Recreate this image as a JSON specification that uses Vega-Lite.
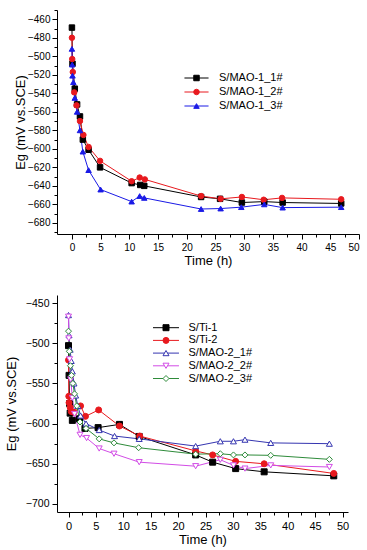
{
  "$schema": "https://vega.github.io/schema/vega-lite/v6.json",
  "background": "white",
  "padding": {"left": 5, "top": 5, "right": 5, "bottom": 5},
  "spacing": 28,
  "columns": 1,
  "align": "none",
  "config": {
    "font": "Liberation Sans",
    "view": {"stroke": null},
    "axis": {
      "domainColor": "black", "tickColor": "black", "labelColor": "black", "titleColor": "black",
      "grid": false, "tickSize": 4, "domainWidth": 1, "tickWidth": 1, "labelOverlap": false,
      "labelFont": "Liberation Sans", "titleFont": "Liberation Sans", "titleFontWeight": "normal",
      "labelFontSize": 10, "titleFontSize": 13, "labelPadding": 3
    },
    "legend": {"labelFont": "Liberation Sans", "labelFontSize": 11, "labelColor": "black", "padding": 0}
  },
  "datasets": {
    "top": [
      {"s": "S/MAO-1_1#", "t": 0, "e": -469}, {"s": "S/MAO-1_1#", "t": 0.1, "e": -508}, {"s": "S/MAO-1_1#", "t": 0.5, "e": -535},
      {"s": "S/MAO-1_1#", "t": 0.9, "e": -552}, {"s": "S/MAO-1_1#", "t": 1.4, "e": -565}, {"s": "S/MAO-1_1#", "t": 1.9, "e": -590},
      {"s": "S/MAO-1_1#", "t": 2.9, "e": -601}, {"s": "S/MAO-1_1#", "t": 4.9, "e": -620}, {"s": "S/MAO-1_1#", "t": 10.4, "e": -637},
      {"s": "S/MAO-1_1#", "t": 11.9, "e": -639}, {"s": "S/MAO-1_1#", "t": 12.6, "e": -640}, {"s": "S/MAO-1_1#", "t": 22.5, "e": -652},
      {"s": "S/MAO-1_1#", "t": 25.8, "e": -654}, {"s": "S/MAO-1_1#", "t": 29.6, "e": -658}, {"s": "S/MAO-1_1#", "t": 33.5, "e": -657},
      {"s": "S/MAO-1_1#", "t": 36.7, "e": -658}, {"s": "S/MAO-1_1#", "t": 46.9, "e": -659},
      {"s": "S/MAO-1_2#", "t": 0, "e": -480}, {"s": "S/MAO-1_2#", "t": 0.05, "e": -503}, {"s": "S/MAO-1_2#", "t": 0.15, "e": -517},
      {"s": "S/MAO-1_2#", "t": 0.4, "e": -539}, {"s": "S/MAO-1_2#", "t": 0.8, "e": -553}, {"s": "S/MAO-1_2#", "t": 1.4, "e": -570},
      {"s": "S/MAO-1_2#", "t": 2, "e": -585}, {"s": "S/MAO-1_2#", "t": 2.9, "e": -598}, {"s": "S/MAO-1_2#", "t": 4.9, "e": -613},
      {"s": "S/MAO-1_2#", "t": 10.4, "e": -635}, {"s": "S/MAO-1_2#", "t": 11.8, "e": -631}, {"s": "S/MAO-1_2#", "t": 12.7, "e": -633},
      {"s": "S/MAO-1_2#", "t": 22.5, "e": -651}, {"s": "S/MAO-1_2#", "t": 25.9, "e": -654}, {"s": "S/MAO-1_2#", "t": 29.6, "e": -652},
      {"s": "S/MAO-1_2#", "t": 33.4, "e": -655}, {"s": "S/MAO-1_2#", "t": 36.6, "e": -653}, {"s": "S/MAO-1_2#", "t": 46.9, "e": -654.5},
      {"s": "S/MAO-1_3#", "t": 0, "e": -492}, {"s": "S/MAO-1_3#", "t": 0.05, "e": -509}, {"s": "S/MAO-1_3#", "t": 0.1, "e": -521},
      {"s": "S/MAO-1_3#", "t": 0.25, "e": -528}, {"s": "S/MAO-1_3#", "t": 0.5, "e": -545}, {"s": "S/MAO-1_3#", "t": 0.9, "e": -560},
      {"s": "S/MAO-1_3#", "t": 1.4, "e": -580}, {"s": "S/MAO-1_3#", "t": 1.9, "e": -603}, {"s": "S/MAO-1_3#", "t": 2.9, "e": -623},
      {"s": "S/MAO-1_3#", "t": 5, "e": -644}, {"s": "S/MAO-1_3#", "t": 10.4, "e": -657}, {"s": "S/MAO-1_3#", "t": 11.8, "e": -651},
      {"s": "S/MAO-1_3#", "t": 12.6, "e": -653}, {"s": "S/MAO-1_3#", "t": 22.5, "e": -665}, {"s": "S/MAO-1_3#", "t": 25.9, "e": -664.5},
      {"s": "S/MAO-1_3#", "t": 29.5, "e": -663}, {"s": "S/MAO-1_3#", "t": 33.5, "e": -660}, {"s": "S/MAO-1_3#", "t": 36.7, "e": -663.5},
      {"s": "S/MAO-1_3#", "t": 46.9, "e": -663}
    ],
    "bot": [
      {"s": "S/Ti-1", "t": 0, "e": -503}, {"s": "S/Ti-1", "t": 0.1, "e": -540}, {"s": "S/Ti-1", "t": 0.2, "e": -575},
      {"s": "S/Ti-1", "t": 0.3, "e": -587}, {"s": "S/Ti-1", "t": 0.7, "e": -596}, {"s": "S/Ti-1", "t": 2, "e": -594},
      {"s": "S/Ti-1", "t": 3, "e": -606}, {"s": "S/Ti-1", "t": 5.4, "e": -605}, {"s": "S/Ti-1", "t": 9.3, "e": -601},
      {"s": "S/Ti-1", "t": 12.9, "e": -616}, {"s": "S/Ti-1", "t": 23.2, "e": -639}, {"s": "S/Ti-1", "t": 26.3, "e": -648},
      {"s": "S/Ti-1", "t": 30.5, "e": -656}, {"s": "S/Ti-1", "t": 35.7, "e": -660}, {"s": "S/Ti-1", "t": 48.4, "e": -665},
      {"s": "S/Ti-2", "t": 0, "e": -521}, {"s": "S/Ti-2", "t": 0.05, "e": -566}, {"s": "S/Ti-2", "t": 0.1, "e": -574},
      {"s": "S/Ti-2", "t": 0.3, "e": -580}, {"s": "S/Ti-2", "t": 0.5, "e": -585}, {"s": "S/Ti-2", "t": 1, "e": -586},
      {"s": "S/Ti-2", "t": 2.2, "e": -578}, {"s": "S/Ti-2", "t": 3.1, "e": -591}, {"s": "S/Ti-2", "t": 5.5, "e": -583},
      {"s": "S/Ti-2", "t": 9.3, "e": -603}, {"s": "S/Ti-2", "t": 13, "e": -615.5}, {"s": "S/Ti-2", "t": 23.2, "e": -634},
      {"s": "S/Ti-2", "t": 26.3, "e": -639}, {"s": "S/Ti-2", "t": 30.5, "e": -647}, {"s": "S/Ti-2", "t": 35.7, "e": -650},
      {"s": "S/Ti-2", "t": 48.4, "e": -662},
      {"s": "S/MAO-2_1#", "t": 0, "e": -465}, {"s": "S/MAO-2_1#", "t": 0.1, "e": -490}, {"s": "S/MAO-2_1#", "t": 0.3, "e": -508},
      {"s": "S/MAO-2_1#", "t": 0.5, "e": -522}, {"s": "S/MAO-2_1#", "t": 0.7, "e": -535}, {"s": "S/MAO-2_1#", "t": 1, "e": -550},
      {"s": "S/MAO-2_1#", "t": 1.3, "e": -565}, {"s": "S/MAO-2_1#", "t": 1.7, "e": -578}, {"s": "S/MAO-2_1#", "t": 2.2, "e": -590},
      {"s": "S/MAO-2_1#", "t": 3.2, "e": -600}, {"s": "S/MAO-2_1#", "t": 5.6, "e": -608}, {"s": "S/MAO-2_1#", "t": 8.4, "e": -615.5},
      {"s": "S/MAO-2_1#", "t": 12.9, "e": -619}, {"s": "S/MAO-2_1#", "t": 23.2, "e": -628}, {"s": "S/MAO-2_1#", "t": 27.7, "e": -622},
      {"s": "S/MAO-2_1#", "t": 30.1, "e": -622}, {"s": "S/MAO-2_1#", "t": 32.2, "e": -620}, {"s": "S/MAO-2_1#", "t": 36.9, "e": -624},
      {"s": "S/MAO-2_1#", "t": 47.6, "e": -625},
      {"s": "S/MAO-2_2#", "t": 0, "e": -467}, {"s": "S/MAO-2_2#", "t": 0.05, "e": -494}, {"s": "S/MAO-2_2#", "t": 0.2, "e": -520},
      {"s": "S/MAO-2_2#", "t": 0.4, "e": -545}, {"s": "S/MAO-2_2#", "t": 0.7, "e": -568}, {"s": "S/MAO-2_2#", "t": 1.1, "e": -588},
      {"s": "S/MAO-2_2#", "t": 2.1, "e": -614}, {"s": "S/MAO-2_2#", "t": 3.3, "e": -618}, {"s": "S/MAO-2_2#", "t": 5.6, "e": -631},
      {"s": "S/MAO-2_2#", "t": 8.3, "e": -637.5}, {"s": "S/MAO-2_2#", "t": 12.9, "e": -648}, {"s": "S/MAO-2_2#", "t": 23.2, "e": -653},
      {"s": "S/MAO-2_2#", "t": 27.7, "e": -645}, {"s": "S/MAO-2_2#", "t": 30.1, "e": -652}, {"s": "S/MAO-2_2#", "t": 32.2, "e": -656},
      {"s": "S/MAO-2_2#", "t": 36.9, "e": -652}, {"s": "S/MAO-2_2#", "t": 47.6, "e": -654},
      {"s": "S/MAO-2_3#", "t": 0, "e": -485}, {"s": "S/MAO-2_3#", "t": 0.15, "e": -510}, {"s": "S/MAO-2_3#", "t": 0.35, "e": -528},
      {"s": "S/MAO-2_3#", "t": 0.55, "e": -540}, {"s": "S/MAO-2_3#", "t": 0.8, "e": -550}, {"s": "S/MAO-2_3#", "t": 1.1, "e": -563},
      {"s": "S/MAO-2_3#", "t": 1.5, "e": -578}, {"s": "S/MAO-2_3#", "t": 2.1, "e": -598}, {"s": "S/MAO-2_3#", "t": 3.2, "e": -606},
      {"s": "S/MAO-2_3#", "t": 5.6, "e": -619}, {"s": "S/MAO-2_3#", "t": 8.3, "e": -624}, {"s": "S/MAO-2_3#", "t": 12.8, "e": -630},
      {"s": "S/MAO-2_3#", "t": 23.2, "e": -638}, {"s": "S/MAO-2_3#", "t": 27.7, "e": -637.5}, {"s": "S/MAO-2_3#", "t": 30.1, "e": -639},
      {"s": "S/MAO-2_3#", "t": 32.2, "e": -639}, {"s": "S/MAO-2_3#", "t": 36.9, "e": -639.5}, {"s": "S/MAO-2_3#", "t": 47.6, "e": -644.5}
    ]
  },
  "resolve": {"scale": {"color": "independent", "fill": "independent", "stroke": "independent", "shape": "independent"}},
  "concat": [
    {
      "width": 302,
      "height": 224,
      "data": {"name": "top"},
      "encoding": {
        "x": {"field": "t", "type": "quantitative", "title": "Time (h)",
          "scale": {"domain": [-2.6, 50], "nice": false, "zero": false},
          "axis": {"values": [0, 2.5, 5, 7.5, 10, 12.5, 15, 17.5, 20, 22.5, 25, 27.5, 30, 32.5, 35, 37.5, 40, 42.5, 45, 47.5, 50],
            "labelExpr": "datum.value % 5 == 0 ? datum.label : ''",
            "tickSize": {"condition": {"test": "datum.value % 5 == 0", "value": 5}, "value": 3},
            "labelPadding": 3, "titlePadding": 2, "labelOverlap": false}},
        "y": {"field": "e", "type": "quantitative", "title": "Eg (mV vs.SCE)",
          "scale": {"domain": [-692, -450], "nice": false, "zero": false},
          "axis": {"values": [-450, -460, -470, -480, -490, -500, -510, -520, -530, -540, -550, -560, -570, -580, -590, -600, -610, -620, -630, -640, -650, -660, -670, -680, -690],
            "labelExpr": "datum.value % 20 == 0 ? datum.label : ''",
            "tickSize": {"condition": {"test": "datum.value % 20 == 0", "value": 5}, "value": 3},
            "labelPadding": 2, "titlePadding": 0, "labelOverlap": false}}
      },
      "layer": [
        {
          "mark": {"type": "line", "strokeWidth": 1},
          "encoding": {
            "color": {"field": "s", "type": "nominal", "sort": ["S/MAO-1_1#", "S/MAO-1_2#", "S/MAO-1_3#"],
              "scale": {"range": ["#000000", "#e8191e", "#1a1ae6"]},
              "legend": {"title": null, "orient": "none", "legendX": 128.5, "legendY": 62.5, "symbolType": "M-4.4,0H4.4", "symbolSize": 30, "symbolStrokeWidth": 1, "symbolOffset": 5.5, "labelOffset": 17, "rowPadding": 2}}
          }
        },
        {
          "mark": {"type": "point", "filled": true, "size": 30, "strokeWidth": 1, "opacity": 1},
          "encoding": {
            "fill": {"field": "s", "type": "nominal", "scale": {"domain": ["S/MAO-1_1#", "S/MAO-1_2#", "S/MAO-1_3#"], "range": ["#000000", "#e8191e", "#1a1ae6"]},
              "legend": {"title": null, "orient": "none", "legendX": 128.5, "legendY": 62.5, "symbolSize": 30, "symbolStrokeWidth": 1, "labelOpacity": 0, "symbolOffset": 5.5, "labelOffset": 17, "rowPadding": 2}},
            "stroke": {"field": "s", "type": "nominal", "scale": {"domain": ["S/MAO-1_1#", "S/MAO-1_2#", "S/MAO-1_3#"], "range": ["#000000", "#e8191e", "#1a1ae6"]},
              "legend": {"title": null, "orient": "none", "legendX": 128.5, "legendY": 62.5, "symbolSize": 30, "symbolStrokeWidth": 1, "labelOpacity": 0, "symbolOffset": 5.5, "labelOffset": 17, "rowPadding": 2}},
            "shape": {"field": "s", "type": "nominal", "scale": {"domain": ["S/MAO-1_1#", "S/MAO-1_2#", "S/MAO-1_3#"], "range": ["square", "circle", "triangle-up"]},
              "legend": {"title": null, "orient": "none", "legendX": 128.5, "legendY": 62.5, "symbolSize": 30, "symbolStrokeWidth": 1, "labelOpacity": 0, "symbolOffset": 5.5, "labelOffset": 17, "rowPadding": 2}}
          }
        }
      ]
    },
    {
      "width": 291,
      "height": 217,
      "data": {"name": "bot"},
      "encoding": {
        "x": {"field": "t", "type": "quantitative", "title": "Time (h)",
          "scale": {"domain": [-2.1, 51], "nice": false, "zero": false},
          "axis": {"values": [0, 2.5, 5, 7.5, 10, 12.5, 15, 17.5, 20, 22.5, 25, 27.5, 30, 32.5, 35, 37.5, 40, 42.5, 45, 47.5, 50],
            "labelExpr": "datum.value % 5 == 0 ? datum.label : ''",
            "tickSize": {"condition": {"test": "datum.value % 5 == 0", "value": 5}, "value": 3},
            "labelFontSize": 11, "labelPadding": 3, "titlePadding": 2, "labelOverlap": false}},
        "y": {"field": "e", "type": "quantitative", "title": "Eg (mV vs.SCE)",
          "scale": {"domain": [-710, -440], "nice": false, "zero": false},
          "axis": {"values": [-450, -475, -500, -525, -550, -575, -600, -625, -650, -675, -700],
            "labelExpr": "datum.value % 50 == 0 ? datum.label : ''",
            "tickSize": {"condition": {"test": "datum.value % 50 == 0", "value": 5}, "value": 3},
            "labelFontSize": 10.5, "labelPadding": 3, "titlePadding": 6.5, "labelOverlap": false}}
      },
      "layer": [
        {
          "mark": {"type": "line", "strokeWidth": 1},
          "encoding": {
            "color": {"field": "s", "type": "nominal", "sort": ["S/Ti-1", "S/Ti-2", "S/MAO-2_1#", "S/MAO-2_2#", "S/MAO-2_3#"],
              "scale": {"range": ["#000000", "#e8191e", "#3535b0", "#d24ce6", "#2e8b3a"]},
              "legend": {"title": null, "orient": "none", "legendX": 96, "legendY": 27.2, "symbolType": "M-4.33,0H4.33", "symbolSize": 36, "symbolStrokeWidth": 1, "symbolOffset": 7.5, "labelOffset": 17, "rowPadding": 0.7}}
          }
        },
        {
          "mark": {"type": "point", "filled": true, "size": 36, "strokeWidth": 1, "opacity": 1},
          "encoding": {
            "fill": {"field": "s", "type": "nominal", "scale": {"domain": ["S/Ti-1", "S/Ti-2", "S/MAO-2_1#", "S/MAO-2_2#", "S/MAO-2_3#"], "range": ["#000000", "#e8191e", "#ffffff", "#ffffff", "#ffffff"]},
              "legend": {"title": null, "orient": "none", "legendX": 96, "legendY": 27.2, "symbolSize": 36, "symbolStrokeWidth": 1, "labelOpacity": 0, "symbolOffset": 7.5, "labelOffset": 17, "rowPadding": 0.7}},
            "stroke": {"field": "s", "type": "nominal", "scale": {"domain": ["S/Ti-1", "S/Ti-2", "S/MAO-2_1#", "S/MAO-2_2#", "S/MAO-2_3#"], "range": ["#000000", "#e8191e", "#3535b0", "#d24ce6", "#2e8b3a"]},
              "legend": {"title": null, "orient": "none", "legendX": 96, "legendY": 27.2, "symbolSize": 36, "symbolStrokeWidth": 1, "labelOpacity": 0, "symbolOffset": 7.5, "labelOffset": 17, "rowPadding": 0.7}},
            "shape": {"field": "s", "type": "nominal", "scale": {"domain": ["S/Ti-1", "S/Ti-2", "S/MAO-2_1#", "S/MAO-2_2#", "S/MAO-2_3#"], "range": ["square", "circle", "triangle-up", "triangle-down", "diamond"]},
              "legend": {"title": null, "orient": "none", "legendX": 96, "legendY": 27.2, "symbolSize": 36, "symbolStrokeWidth": 1, "labelOpacity": 0, "symbolOffset": 7.5, "labelOffset": 17, "rowPadding": 0.7}}
          }
        }
      ]
    }
  ]
}
